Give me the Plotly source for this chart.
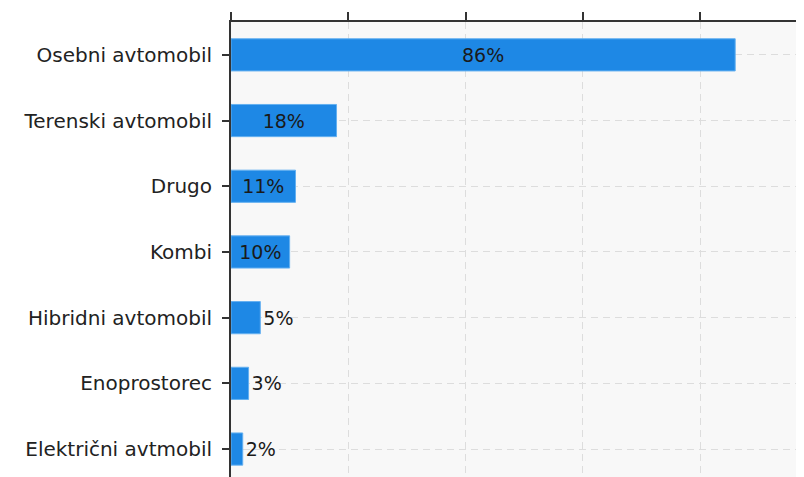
import plotly.graph_objects as go

categories = ["Osebni avtomobil", "Terenski avtomobil", "Drugo", "Kombi",
              "Hibridni avtomobil", "Enoprostorec", "Električni avtmobil"]
values = [86, 18, 11, 10, 5, 3, 2]
labels = [f"{v}%" for v in values]
positions = ["inside", "inside", "inside", "inside", "outside", "outside", "outside"]

fig = go.Figure(go.Bar(
    x=values, y=categories, orientation="h",
    text=labels, textposition=positions,
    insidetextanchor="middle",
    textfont=dict(family="DejaVu Sans", size=19, color="#1a1a1a"),
    insidetextfont=dict(family="DejaVu Sans", size=19, color="#1a1a1a"),
    outsidetextfont=dict(family="DejaVu Sans", size=19, color="#1a1a1a"),
    marker=dict(color="#1e88e5", line=dict(color="#64b0f0", width=1)),
    width=0.49, cliponaxis=False,
))

fig.update_layout(
    width=804, height=477,
    margin=dict(l=223, r=0, t=14, b=0),
    paper_bgcolor="white", plot_bgcolor="#f8f8f8",
    showlegend=False,
    font=dict(family="DejaVu Sans", size=20, color="#222"),
    uniformtext=dict(mode=False),
    xaxis=dict(side="top", range=[0, 99.1], tickvals=[0, 20, 40, 60, 80],
               showticklabels=False, ticks="outside", ticklen=8, tickcolor="#333",
               tickwidth=2,
               showline=True, linecolor="#333", linewidth=2,
               showgrid=True, gridcolor="#dddddd", griddash="7px,5px", gridwidth=1,
               zeroline=False, fixedrange=True),
    yaxis=dict(range=[6.547, -0.5], ticks="outside", ticklen=7, tickcolor="#333",
               tickwidth=2,
               showline=True, linecolor="#333", linewidth=2,
               showgrid=True, gridcolor="#dddddd", griddash="7px,5px", gridwidth=1,
               ticklabelstandoff=6, automargin=False,
               tickfont=dict(family="DejaVu Sans", size=20, color="#222")),
)

fig.write_html("out.html")
